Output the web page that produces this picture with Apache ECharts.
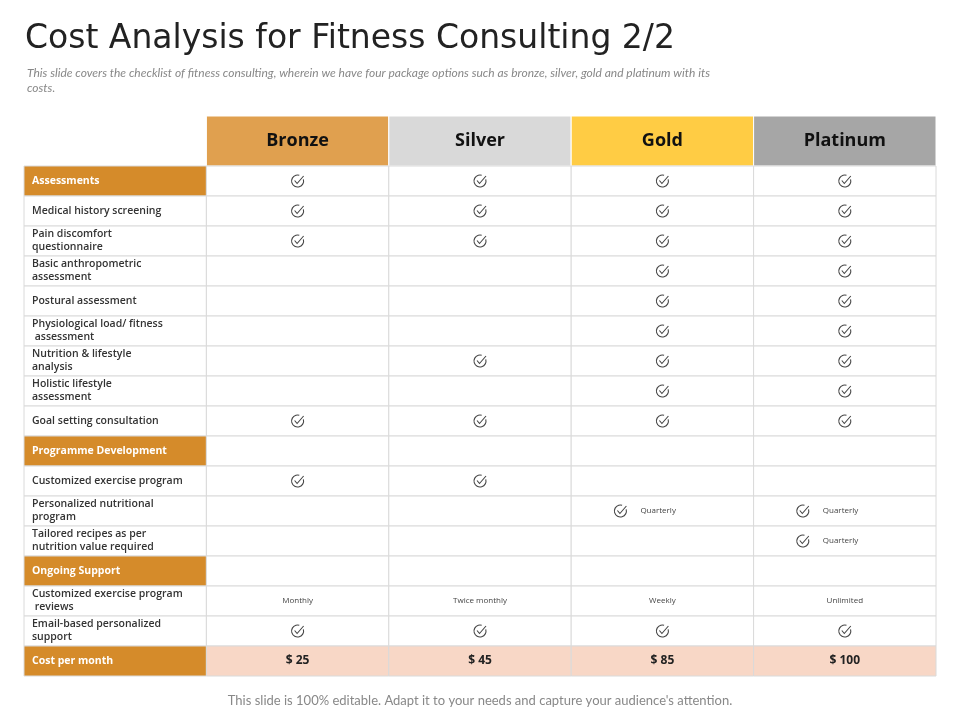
<!DOCTYPE html><html><head><meta charset="utf-8"><script src="https://cdn.jsdelivr.net/npm/echarts@6/dist/echarts.min.js"></script>
<style>html,body{margin:0;padding:0;background:#fff}#c{width:960px;height:720px}</style></head><body><div id="c"></div><script>
const packages=['Bronze','Silver','Gold','Platinum'];
const rows=['Assessments','Medical history screening','Pain discomfort questionnaire','Basic anthropometric assessment','Postural assessment','Physiological load/ fitness assessment','Nutrition & lifestyle analysis','Holistic lifestyle assessment','Goal setting consultation','Programme Development','Customized exercise program','Personalized nutritional program','Tailored recipes as per nutrition value required','Ongoing Support','Customized exercise program reviews','Email-based personalized support','Cost per month'];
const sectionRows=[0,9,13,16];
const bronze=['check','check','check','','','','','','check','','check','','','','Monthly','check','$ 25'];
const silver=['check','check','check','','','','check','','check','','check','','','','Twice monthly','check','$ 45'];
const gold=['check','check','check','check','check','check','check','check','check','','','check|Quarterly','','','Weekly','check','$ 85'];
const platinum=['check','check','check','check','check','check','check','check','check','','','check|Quarterly','check|Quarterly','','Unlimited','check','$ 100'];
const headerColors=['#E0A04F','#D9D9D9','#FFCC44','#A6A6A6'];
const cols=[bronze,silver,gold,platinum];
const body=[];
rows.forEach((r,i)=>{body.push([0,i,r]);cols.forEach((c,j)=>body.push([j+1,i,c[i]]));});
const head=packages.map((p,j)=>[j+1,0,p]);
function check(cx,cy){
 return [{type:'arc',shape:{cx:cx,cy:cy,r:6,startAngle:-Math.PI/4+0.5,endAngle:-Math.PI/4-0.5+Math.PI*2},style:{stroke:'#444',fill:null,lineWidth:1.1}},
 {type:'polyline',shape:{points:[[cx-3,cy-0.5],[cx-0.5,cy+2.5],[cx+6,cy-5]]},style:{stroke:'#444',fill:null,lineWidth:1.1}}];
}
const chart=echarts.init(document.getElementById('c'));
chart.setOption({
 animation:false,
 title:[{text:'Cost Analysis for Fitness Consulting 2/2',left:20,top:18,textStyle:{fontFamily:'DejaVu Sans',fontWeight:'normal',fontSize:33,color:'#222'}},
 {text:'This slide covers the checklist of fitness consulting, wherein we have four package options such as bronze, silver, gold and platinum with its\ncosts.',left:22,top:61,textStyle:{fontFamily:'Lato',fontStyle:'italic',fontWeight:'normal',fontSize:12,color:'#888',lineHeight:15}},
 {text:"This slide is 100% editable. Adapt it to your needs and capture your audience's attention.",left:'center',top:689,textStyle:{fontFamily:'Lato',fontWeight:'normal',fontSize:13,color:'#888'}}],
 grid:[{left:24,right:24,top:116,height:50},{left:24,right:24,top:166,bottom:44}],
 xAxis:[{type:'category',gridIndex:0,data:['',...packages],show:false},{type:'category',gridIndex:1,data:['',...packages],show:false}],
 yAxis:[{type:'category',gridIndex:0,data:['h'],show:false,inverse:true},{type:'category',gridIndex:1,data:rows,show:false,inverse:true}],
 series:[
 {type:'custom',xAxisIndex:0,yAxisIndex:0,data:head,encode:{x:0,y:1},renderItem:(params,api)=>{
   const p=api.coord([api.value(0),api.value(1)]),s=api.size([1,1]);
   const j=api.value(0)-1;
   return {type:'group',children:[{type:'rect',shape:{x:p[0]-s[0]/2,y:p[1]-s[1]/2,width:s[0],height:s[1]},style:{fill:headerColors[j],stroke:'#fff',lineWidth:1}},
   {type:'text',style:{text:packages[j],x:p[0],y:p[1],align:'center',verticalAlign:'middle',font:'bold 18px "Open Sans"',fill:'#111'}}]};
 }},
 {type:'custom',xAxisIndex:1,yAxisIndex:1,data:body,encode:{x:0,y:1},renderItem:(params,api)=>{
   const d=body[params.dataIndex];const xi=d[0],yi=d[1],v=d[2];
   const p=api.coord([xi,yi]),s=api.size([1,1]);
   const x0=p[0]-s[0]/2,y0=p[1]-s[1]/2;
   const sec=sectionRows.includes(yi),cost=yi===rows.length-1;
   let fill='#fff';
   if(xi===0&&sec)fill='#D58B2A';else if(cost)fill='#F8D7C6';
   const ch=[{type:'rect',shape:{x:x0,y:y0,width:s[0],height:s[1]},style:{fill:fill,stroke:'#DADADA',lineWidth:1}}];
   if(xi===0){
     ch.push({type:'text',style:{text:v,x:x0+8,y:p[1],verticalAlign:'middle',width:165,overflow:'break',lineHeight:13,font:(sec?'bold ':'600 ')+'10.5px "Open Sans"',fill:sec?'#fff':'#333'}});
   }else if(v==='check'){ch.push(...check(p[0],p[1]));}
   else if(v.startsWith('check|')){ch.push(...check(p[0]-42,p[1]));ch.push({type:'text',style:{text:v.split('|')[1],x:p[0]-22,y:p[1],verticalAlign:'middle',font:'8px "Open Sans"',fill:'#444'}});}
   else if(v){ch.push({type:'text',style:{text:v,x:p[0],y:p[1],align:'center',verticalAlign:'middle',font:cost?'bold 12px "Open Sans"':'8px "Open Sans"',fill:cost?'#222':'#444'}});}
   return {type:'group',children:ch};
 }}]
});
</script></body></html>
